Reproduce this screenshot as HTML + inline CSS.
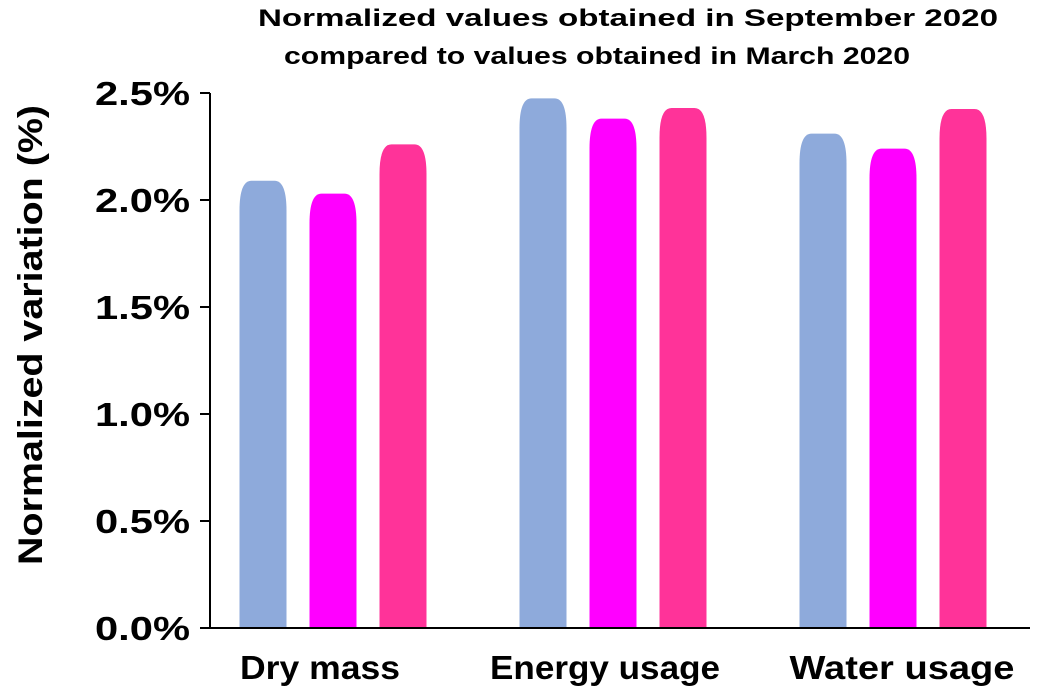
<!DOCTYPE html>
<html><head><meta charset="utf-8"><style>
html,body{margin:0;padding:0;background:#fff;}
svg{display:block;font-family:"Liberation Sans",Arial,sans-serif;}
</style></head><body>
<svg id="chart" width="1038" height="695" viewBox="0 0 1038 695">
<text x="258" y="26" textLength="740" lengthAdjust="spacingAndGlyphs" font-size="24" font-weight="bold">Normalized values obtained in September 2020</text>
<text x="284" y="64" textLength="626" lengthAdjust="spacingAndGlyphs" font-size="24" font-weight="bold">compared to values obtained in March 2020</text>
<text transform="translate(42,335) rotate(-90)" text-anchor="middle" textLength="460" lengthAdjust="spacingAndGlyphs" font-size="34" font-weight="bold">Normalized variation (%)</text>
<g id="ticks"></g>
<g id="bars"></g>
<line x1="210" y1="93" x2="210" y2="628" stroke="#000" stroke-width="2"/>
<line x1="210" y1="628" x2="1030" y2="628" stroke="#000" stroke-width="2"/>
</svg>
<script>
const categories = ["Dry mass", "Energy usage", "Water usage"];
const seriesA = [2.09, 2.475, 2.31];
const seriesB = [2.03, 2.38, 2.24];
const seriesC = [2.26, 2.43, 2.425];
const tickValues = [0, 0.5, 1.0, 1.5, 2.0, 2.5];
const tickLabels = ["0.0%", "0.5%", "1.0%", "1.5%", "2.0%", "2.5%"];

const ns = "http://www.w3.org/2000/svg";
const y0 = 628, pxPer = 214;
function yScale(v){ return y0 - v * pxPer; }
function xCenter(i){ return 333 + i * 280; }
const colors = ["#8eaadb", "#ff00ff", "#ff3399"];
const offsets = [-70, 0, 70];
const bw = 47;
const series = [seriesA, seriesB, seriesC];
const labelCenters = [320, 605, 902];
const labelWidths = [160, 230, 225];

const tg = document.getElementById("ticks");
tickValues.forEach((v, i) => {
  const y = yScale(v);
  const l = document.createElementNS(ns, "line");
  l.setAttribute("x1", 200); l.setAttribute("x2", 210);
  l.setAttribute("y1", y); l.setAttribute("y2", y);
  l.setAttribute("stroke", "#000"); l.setAttribute("stroke-width", 2);
  
  
  tg.appendChild(l);
  const t = document.createElementNS(ns, "text");
  t.setAttribute("x", 95); t.setAttribute("y", y + 12);
  t.setAttribute("textLength", "95");
  t.setAttribute("lengthAdjust", "spacingAndGlyphs");
  t.setAttribute("font-size", "33"); t.setAttribute("font-weight", "bold");
  t.textContent = tickLabels[i];
  
  
  tg.appendChild(t);
});

const bg = document.getElementById("bars");
categories.forEach((c, i) => {
  series.forEach((s, k) => {
    const x = xCenter(i) + offsets[k] - bw / 2;
    const yt = yScale(s[i]);
    const r = 12, rh = 30;
    const p = document.createElementNS(ns, "path");
    p.setAttribute("d", `M${x},${y0} L${x},${yt + rh} Q${x},${yt} ${x + r},${yt} L${x + bw - r},${yt} Q${x + bw},${yt} ${x + bw},${yt + rh} L${x + bw},${y0} Z`);
    p.setAttribute("fill", colors[k]);
    
    
    bg.appendChild(p);
  });
  const t = document.createElementNS(ns, "text");
  t.setAttribute("x", labelCenters[i] - labelWidths[i] / 2); t.setAttribute("y", 679);
  t.setAttribute("textLength", labelWidths[i]);
  t.setAttribute("lengthAdjust", "spacingAndGlyphs");
  t.setAttribute("font-size", "33"); t.setAttribute("font-weight", "bold");
  t.textContent = c;
  
  
  bg.appendChild(t);
});
</script>
</body></html>
